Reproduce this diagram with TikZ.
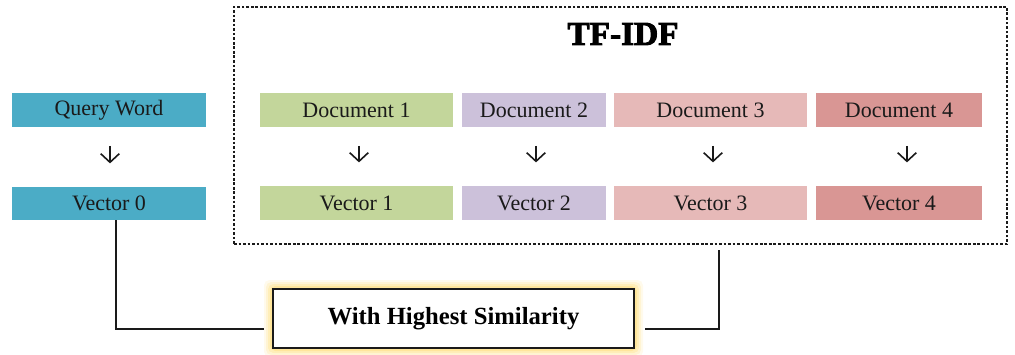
\documentclass[tikz,border=0pt]{standalone}
\usepackage{fontspec}
\setmainfont{Liberation Serif}
\newfontfamily\titlefont[FakeBold=2.8]{Liberation Serif}
\usetikzlibrary{arrows.meta}
\definecolor{cq}{HTML}{4BACC6}
\definecolor{cg}{HTML}{C3D69B}
\definecolor{cp}{HTML}{CCC1DA}
\definecolor{cl}{HTML}{E6B9B8}
\definecolor{cr}{HTML}{D99694}
\definecolor{txt}{HTML}{1A1A1A}
\definecolor{glow}{HTML}{FFD966}
\tikzset{
  cbox/.style={inner sep=0pt, text=txt, font=\fontsize{16.5}{18}\selectfont, anchor=center},
  dnarrow/.style={line width=1.2pt, draw=txt, -{Straight Barb[length=6.5pt,width=14pt,line width=1.2pt]}, shorten <=14pt, shorten >=17.5pt},
  conn/.style={line width=1.5pt, draw=txt},
  dbox/.style={draw=txt, line width=1pt, dash pattern=on 2pt off 1.4pt, inner sep=0pt},
}
\begin{document}
\begin{tikzpicture}[x=0.75pt,y=-0.75pt]
\useasboundingbox (0,0) rectangle (1015,354);
% left column
\node[cbox, fill=cq, minimum width=194*0.75pt, minimum height=34*0.75pt] (q) at (109,110) {Query Word};
\node[cbox, fill=cq, minimum width=194*0.75pt, minimum height=33*0.75pt] (v0) at (109,203.5) {Vector 0};
% TF-IDF frame
\node[dbox, minimum width=773*0.75pt, minimum height=237*0.75pt] (tf) at (620.5,125.5) {};
\node[text=black, font=\titlefont\fontsize{25}{27}\selectfont\bfseries, inner sep=0pt] (title) at (623,34) {TF-IDF};
% documents
\node[cbox, fill=cg, minimum width=193*0.75pt, minimum height=34*0.75pt] (d1) at (356.5,110) {Document 1};
\node[cbox, fill=cp, minimum width=144*0.75pt, minimum height=34*0.75pt] (d2) at (534,110) {Document 2};
\node[cbox, fill=cl, minimum width=193*0.75pt, minimum height=34*0.75pt] (d3) at (710.5,110) {Document 3};
\node[cbox, fill=cr, minimum width=166*0.75pt, minimum height=34*0.75pt] (d4) at (899,110) {Document 4};
% vectors
\node[cbox, fill=cg, minimum width=193*0.75pt, minimum height=34*0.75pt] (v1) at (356.5,203) {Vector 1};
\node[cbox, fill=cp, minimum width=144*0.75pt, minimum height=34*0.75pt] (v2) at (534,203) {Vector 2};
\node[cbox, fill=cl, minimum width=193*0.75pt, minimum height=34*0.75pt] (v3) at (710.5,203) {Vector 3};
\node[cbox, fill=cr, minimum width=166*0.75pt, minimum height=34*0.75pt] (v4) at (899,203) {Vector 4};
% arrow columns
\coordinate (a0) at (110,0);
\coordinate (a1) at (359,0);
\coordinate (a2) at (536,0);
\coordinate (a3) at (713,0);
\coordinate (a4) at (907,0);
% arrows
\draw[dnarrow] (q.south -| a0) -- (v0.north -| a0);
\draw[dnarrow] (d1.south -| a1) -- (v1.north -| a1);
\draw[dnarrow] (d2.south -| a2) -- (v2.north -| a2);
\draw[dnarrow] (d3.south -| a3) -- (v3.north -| a3);
\draw[dnarrow] (d4.south -| a4) -- (v4.north -| a4);
% glow behind result box
\foreach \g/\o in {9/0.12,7/0.18,5/0.25,3/0.35}{
  \fill[glow, opacity=\o, rounded corners=4pt] (273-\g,289-\g) rectangle (634+\g,348+\g);
}
\node[draw=txt, fill=white, line width=1.6pt, minimum width=361*0.75pt, minimum height=59*0.75pt, inner sep=0pt, text=black, font=\fontsize{18.5}{20}\selectfont\bfseries] (sim) at (453.5,318.5) {With Highest Similarity};
% connectors
\coordinate (lx) at (116,0);
\coordinate (rx) at (719,0);
\coordinate (ly) at (0,329);
\draw[conn, shorten >=8*0.75pt] (v0.south -| lx) |- (sim.west |- ly);
\draw[conn, shorten <=10*0.75pt, shorten >=5*0.75pt] (sim.east |- ly) -| (tf.south -| rx);
\end{tikzpicture}
\end{document}
